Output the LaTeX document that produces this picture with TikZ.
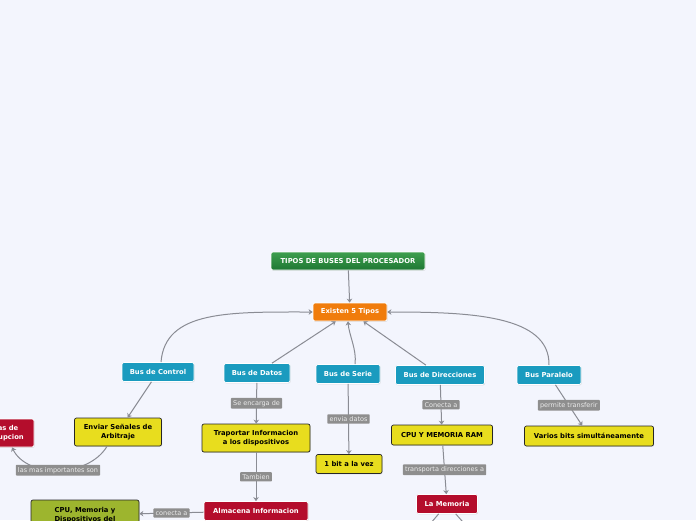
\documentclass[tikz,border=0pt]{standalone}
\usepackage{fontspec}
\setmainfont{DejaVu Sans}
\usetikzlibrary{arrows.meta,shadows}

\definecolor{fondo}{HTML}{F3F5FD}
\definecolor{azulbus}{HTML}{1A9BBF}
\definecolor{naranja}{HTML}{F07C0C}
\definecolor{verdearriba}{HTML}{3E9E4E}
\definecolor{verdeabajo}{HTML}{1E7833}
\definecolor{rojo}{HTML}{B40D2C}
\definecolor{amarillo}{HTML}{E8DD1E}
\definecolor{oliva}{HTML}{9DB52E}
\definecolor{grisetiq}{HTML}{8E8E8E}
\definecolor{grislinea}{HTML}{8A8C94}

\begin{document}
\begin{tikzpicture}[x=1pt, y=-1pt,
    every node/.style={font=\fontsize{6.8}{8.5}\selectfont\bfseries, align=center, inner sep=1pt},
    caja/.style={rounded corners=2pt, minimum height=19pt, line width=0.7pt,
      drop shadow={opacity=0.22, shadow xshift=0.6pt, shadow yshift=-0.9pt}},
    tipo/.style={caja, fill=azulbus, draw=white, text=white},
    titulo/.style={caja, top color=verdearriba, bottom color=verdeabajo, draw=white, text=white},
    central/.style={caja, fill=naranja, draw=white, text=white},
    rojobox/.style={caja, fill=rojo, draw=white, text=white},
    amarillobox/.style={caja, fill=amarillo, draw=black!85, text=black},
    olivabox/.style={caja, fill=oliva, draw=black!85, text=black},
    etiq/.style={fill=grisetiq, text=white!92!black, font=\fontsize{6.5}{7.5}\selectfont,
      inner sep=2.2pt, rounded corners=0.8pt},
    conexion/.style={draw=grislinea, line width=1pt, -{Stealth[length=4pt, width=5.5pt]}}]

  \useasboundingbox (0,0) rectangle (696,520);
  \fill[fondo] (0,0) rectangle (696,520);
  \clip (0,0) rectangle (696,520);

  % raiz
  \node[titulo, minimum width=154pt, minimum height=18pt, font=\fontsize{6.8}{8}\selectfont\bfseries] (raiz) at (348,261) {TIPOS DE BUSES DEL PROCESADOR};
  \node[central, minimum width=74pt, minimum height=18pt] (existen) at (350,312) {Existen 5 Tipos};

  % los cinco buses
  \node[tipo, minimum width=72pt] (control) at (158,372) {Bus de Control};
  \node[tipo, minimum width=66pt] (datos) at (257,373) {Bus de Datos};
  \node[tipo, minimum width=64pt] (serie) at (348,374) {Bus de Serie};
  \node[tipo, minimum width=89pt] (direcciones) at (440,375) {Bus de Direcciones};
  \node[tipo, minimum width=64pt] (paralelo) at (549,375) {Bus Paralelo};

  % hojas
  \node[amarillobox, minimum width=87pt, minimum height=28pt] (enviar) at (118,432) {Enviar Señales de\\Arbitraje};
  \node[rojobox, minimum width=68pt, minimum height=28pt] (interrup) at (0,433) {Lineas de\\Interrupcion};
  \node[amarillobox, minimum width=108pt, minimum height=28pt] (traportar) at (256,438) {Traportar Informacion\\a los dispositivos};
  \node[amarillobox, minimum width=66pt] (unbit) at (349,464) {1 bit a la vez};
  \node[amarillobox, minimum width=101pt, minimum height=20pt] (cpuram) at (442,435) {CPU Y MEMORIA RAM};
  \node[amarillobox, minimum width=129pt, minimum height=20pt] (varios) at (589,436) {Varios bits simultáneamente};
  \node[rojobox, minimum width=61pt] (memoria) at (447,504) {La Memoria};
  \node[rojobox, minimum width=104pt] (almacena) at (256,511) {Almacena Informacion};
  \node[olivabox, minimum width=108pt, minimum height=30pt] (cpudisp) at (85,515) {CPU, Memoria y\\Dispositivos del};

  \coordinate (memizq) at (425,530);
  \coordinate (memder) at (470,530);

  % conexiones hacia arriba
  \draw[conexion] (raiz) -- (existen);
  \draw[conexion] ([xshift=3pt]control.north) .. controls (165,310) and (230,312) .. (existen.west);
  \draw[conexion] (datos) -- (existen);
  \draw[conexion] ([xshift=7pt]serie.north) .. controls (357,350) and (349,335) .. ([xshift=-2pt]existen.south);
  \draw[conexion] (direcciones) -- (existen);
  \draw[conexion] (paralelo.north) .. controls (550,315) and (470,312) .. (existen.east);

  % conexiones hacia abajo
  \draw[conexion] (control) -- (enviar);
  \draw[conexion] ([xshift=-11pt]enviar.south) .. controls (88,478) and (27,478) .. node[etiq] {las mas importantes son} ([xshift=12pt]interrup.south);
  \draw[conexion] (datos) -- node[etiq] {Se encarga de} (traportar);
  \draw[conexion] (traportar) -- node[etiq] {Tambien} (almacena);
  \draw[conexion] (almacena) -- node[etiq] {conecta a} (cpudisp);
  \draw[conexion] (serie) -- node[etiq] {envia datos} (unbit);
  \draw[conexion] (direcciones) -- node[etiq] {Conecta a} (cpuram);
  \draw[conexion] (cpuram) -- node[etiq] {transporta direcciones a} (memoria);
  \draw[conexion] (paralelo) -- node[etiq] {permite transferir} (varios);
  \draw[conexion] (memoria) -- (memizq);
  \draw[conexion] (memoria) -- (memder);
\end{tikzpicture}
\end{document}
